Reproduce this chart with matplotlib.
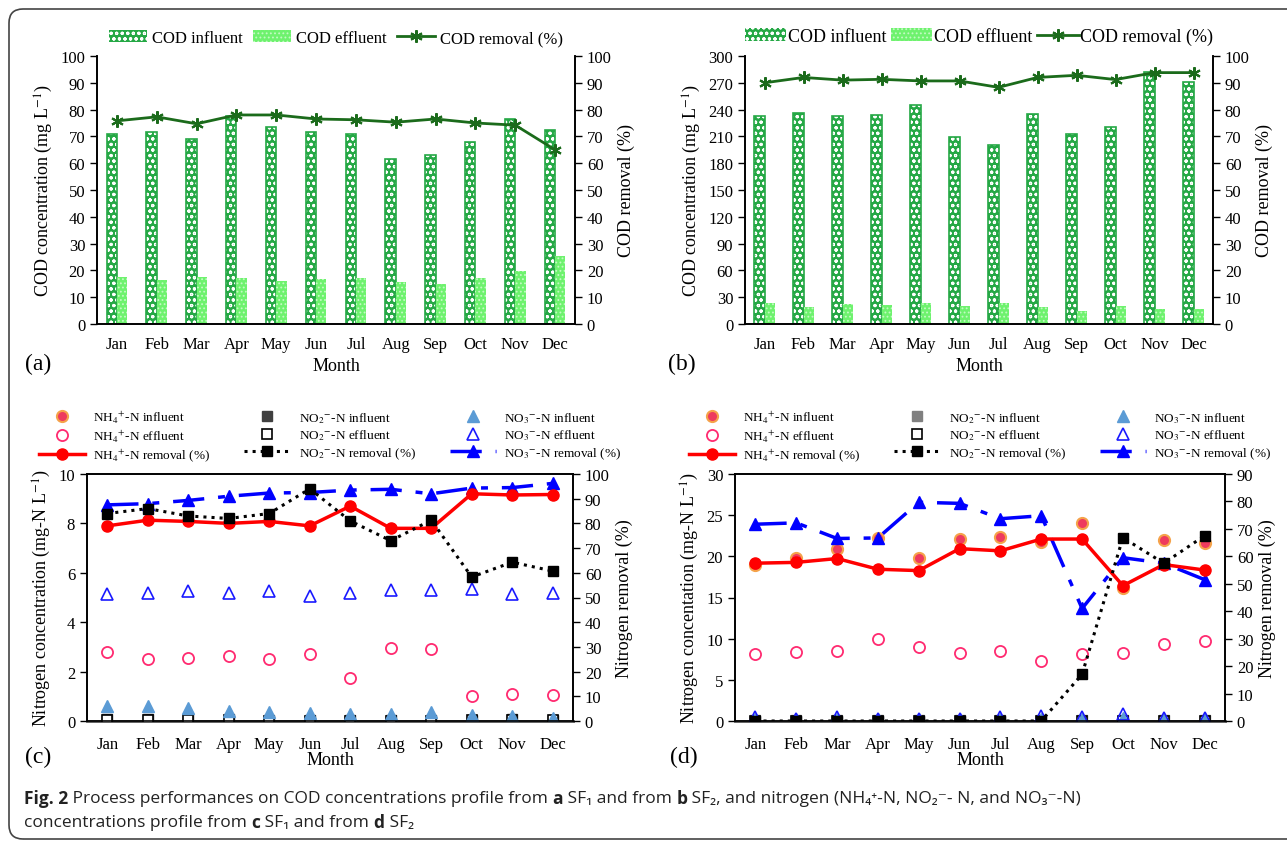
import matplotlib
matplotlib.use('Agg')
import matplotlib.pyplot as plt
import numpy as np
from matplotlib.patches import FancyBboxPatch

plt.rcParams['font.family'] = ['Liberation Serif', 'DejaVu Serif']
plt.rcParams['mathtext.fontset'] = 'stix'
plt.rcParams['hatch.linewidth'] = 0.8

W, H = 1287, 845

# --- du lieu ---
months = ['Jan', 'Feb', 'Mar', 'Apr', 'May', 'Jun', 'Jul', 'Aug', 'Sep', 'Oct', 'Nov', 'Dec']

# (a) SF1 COD
cod_inf_a = [71, 71.5, 69, 77.5, 73.5, 71.5, 71, 61.5, 63, 68, 76.5, 72.5]
cod_eff_a = [17.5, 16.5, 17.5, 17, 16.2, 16.8, 17, 15.5, 15, 17, 19.8, 25.2]
cod_rem_a = [75.8, 77.3, 74.7, 78, 78, 76.5, 76.2, 75.3, 76.5, 75, 74.2, 65]

# (b) SF2 COD
cod_inf_b = [233, 236, 233, 234, 245, 209, 200, 235, 213, 220, 282, 271]
cod_eff_b = [24, 19, 22, 21, 23, 20, 24, 19, 15, 20, 17, 17]
cod_rem_b = [90, 92, 91, 91.3, 90.7, 90.7, 88.3, 92, 92.8, 91.2, 93.8, 93.8]

# (c) SF1 nitrogen
nh4_inf_c = []  # ngoai thang do, khong thay tren hinh
nh4_eff_c = [2.8, 2.52, 2.55, 2.62, 2.52, 2.72, 1.73, 2.97, 2.92, 1.0, 1.1, 1.07]
nh4_rem_c = [79, 81.3, 80.8, 80, 80.8, 79, 87, 78, 78, 92, 91.5, 91.7]
no2_inf_c = [0.1, 0.1, 0.1, 0.08, 0.06, 0.05, 0.05, 0.05, 0.05, 0.05, 0.08, 0.05]
no2_eff_c = [0.03, 0.03, 0.03, 0.03, 0.02, 0.02, 0.02, 0.02, 0.02, 0.03, 0.05, 0.06]
no2_rem_c = [84, 86, 83, 82, 84, 94, 81, 73, 81.3, 58.3, 64.3, 60.7]
no3_inf_c = [0.62, 0.6, 0.52, 0.42, 0.35, 0.32, 0.28, 0.28, 0.38, 0.25, 0.22, 0.12]
no3_eff_c = [5.15, 5.2, 5.27, 5.17, 5.27, 5.07, 5.17, 5.3, 5.3, 5.33, 5.15, 5.2]
no3_rem_c = [87.5, 88, 89.3, 91, 92.3, 92.5, 93.5, 93.8, 92, 94.3, 94.5, 96.2]

# (d) SF2 nitrogen
nh4_inf_d = [19, 19.8, 20.9, 22.2, 19.8, 22.1, 22.4, 21.7, 24.1, 16.2, 22, 21.6]
nh4_eff_d = [8.1, 8.4, 8.5, 9.9, 9.0, 8.2, 8.5, 7.3, 8.1, 8.2, 9.4, 9.7]
nh4_rem_d = [57.5, 57.8, 59.2, 55.3, 54.8, 62.8, 62, 66.3, 66.3, 49.3, 57, 55]
no2_inf_d = [0.1, 0.1, 0.1, 0.1, 0.1, 0.1, 0.1, 0.1, 0.1, 0.1, 0.1, 0.1]
no2_eff_d = [0.02, 0.02, 0.02, 0.02, 0.02, 0.02, 0.02, 0.02, 0.05, 0.05, 0.05, 0.05]
no2_rem_d = [0, 0, 0, 0, 0, 0, 0, 0, 17, 66.8, 57.5, 67.5]
no3_inf_d = [0.3, 0.2, 0.3, 0.2, 0.2, 0.2, 0.3, 0.3, 0.3, 0.4, 0.3, 0.3]
no3_eff_d = [0.5, 0.2, 0.5, 0.2, 0.2, 0.3, 0.5, 0.6, 0.5, 0.8, 0.4, 0.4]
no3_rem_d = [71.7, 72.2, 66.5, 66.7, 79.7, 79.3, 73.7, 74.8, 41, 59.5, 57.5, 51.5]


def rect(l, t, r, b):
    return [l / W, 1 - b / H, (r - l) / W, (b - t) / H]


fig = plt.figure(figsize=(W / 100, H / 100), dpi=100)

# khung vien bo tron
fig.add_artist(FancyBboxPatch((9, 5), 1300, 830, boxstyle='round,pad=0,rounding_size=14',
                              transform=None, fill=False, lw=1.2, ec='#444444'))

x = np.arange(12)


def cod_panel(pos, inf, eff, rem, ymax, ystep, lfont, tpad, cspace):
    ax = fig.add_axes(pos)
    w = 0.26
    b1 = ax.bar(x - w / 2, inf, w, color='#25a845', edgecolor='white', hatch='ooo', lw=0,
                label='COD influent')
    ax.bar(x - w / 2, inf, w, fill=False, edgecolor='#25a845', lw=1.2)
    b2 = ax.bar(x + w / 2, eff, w, color='#6ef26e', edgecolor='#c4fac4', hatch='....', lw=0,
                label='COD effluent')
    ax2 = ax.twinx()
    l1, = ax2.plot(x, rem, color='#1b6b1b', lw=2, marker=(6, 2, 0), ms=9, mew=1.5,
                   label='COD removal (%)')
    ax.set_xlim(-0.5, 11.5)
    ax.set_ylim(0, ymax)
    ax.set_yticks(np.arange(0, ymax + 1, ystep))
    ax2.set_ylim(0, 100)
    ax2.set_yticks(np.arange(0, 101, 10))
    ax.set_xticks(x)
    ax.set_xticklabels(months)
    for a in (ax, ax2):
        a.spines['top'].set_visible(False)
        a.tick_params(labelsize=12, direction='out', length=5, width=1)
        a.spines['left'].set_linewidth(1.2)
        a.spines['right'].set_linewidth(1.2)
        a.spines['bottom'].set_linewidth(1.2)
    ax.tick_params(axis='x', length=0, pad=9)
    ax.set_ylabel('COD concentration (mg L$^{-1}$)', fontsize=13)
    ax2.set_ylabel('COD removal (%)', fontsize=13)
    ax.set_xlabel('Month', fontsize=13, labelpad=3)
    ax2.legend([b1, b2, l1], ['COD influent', 'COD effluent', 'COD removal (%)'],
               loc='lower center', bbox_to_anchor=(0.5, 1.0), ncol=3, frameon=False,
               fontsize=lfont, handlelength=2.3, handletextpad=tpad, columnspacing=cspace,
               borderaxespad=0.2)
    return ax


def n_panel(pos, d, lmax, lstep, rmax, rstep, ylab, no2_color):
    (nh4_inf, nh4_eff, nh4_rem, no2_inf, no2_eff, no2_rem, no3_inf, no3_eff, no3_rem) = d
    ax = fig.add_axes(pos)
    ax2 = ax.twinx()
    h = []
    h += ax.plot(x[:len(nh4_inf)], nh4_inf, 'o', ls='none', ms=8, mfc='#ee3a5e', mec='#f5a24a',
                 mew=1.5)
    h += ax.plot(x, nh4_eff, 'o', ls='none', ms=8, mfc='none', mec='#ff2a70', mew=1.3)
    h += ax2.plot(x, nh4_rem, color='#ff0000', lw=2.5, marker='o', ms=8, zorder=3)
    h += ax.plot(x, no2_inf, 's', ls='none', ms=7, mfc=no2_color, mec=no2_color, zorder=4)
    h += ax.plot(x, no2_eff, 's', ls='none', ms=7, mfc='white', mec='black', mew=1.2, zorder=4)
    h += ax2.plot(x, no2_rem, color='black', lw=2.2, ls=':', marker='s', ms=7, zorder=4)
    h += ax.plot(x, no3_inf, '^', ls='none', ms=8, mfc='#5b9bd5', mec='#5b9bd5', zorder=5)
    h += ax.plot(x, no3_eff, '^', ls='none', ms=8, mfc='none', mec='#1a1aff', mew=1.2, zorder=5)
    h += ax2.plot(x, no3_rem, color='#0000ff', lw=2.5, dashes=(9, 4, 2, 4), marker='^', ms=8,
                  zorder=2)
    labels = ['NH$_4$$^{+}$-N influent', 'NH$_4$$^{+}$-N effluent', 'NH$_4$$^{+}$-N removal (%)',
              'NO$_2$$^{-}$-N influent', 'NO$_2$$^{-}$-N effluent', 'NO$_2$$^{-}$-N removal (%)',
              'NO$_3$$^{-}$-N influent', 'NO$_3$$^{-}$-N effluent', 'NO$_3$$^{-}$-N removal (%)']
    ax.set_xlim(-0.5, 11.5)
    ax.set_ylim(0, lmax)
    ax.set_yticks(np.arange(0, lmax + 0.01, lstep))
    ax2.set_ylim(0, rmax)
    ax2.set_yticks(np.arange(0, rmax + 1, rstep))
    ax.set_xticks(x)
    ax.set_xticklabels(months)
    for a in (ax, ax2):
        a.tick_params(labelsize=12, direction='out', length=5, width=1)
        for s in a.spines.values():
            s.set_linewidth(1.2)
    ax.spines['bottom'].set_linewidth(2)
    ax.spines['bottom'].set_color('#555555')
    ax.tick_params(axis='x', length=0, pad=11)
    ax.set_ylabel(ylab, fontsize=13)
    ax2.set_ylabel('Nitrogen removal (%)', fontsize=13)
    ax.set_xlabel('Month', fontsize=13, labelpad=-1)
    ax2.legend(h, labels, loc='lower center', bbox_to_anchor=(0.5, 1.0), ncol=3, frameon=False,
               fontsize=9.5, handlelength=3.5, handletextpad=0.6, columnspacing=2.6,
               labelspacing=0.22, borderaxespad=0.4)
    return ax


cod_panel(rect(97, 57, 575, 325), cod_inf_a, cod_eff_a, cod_rem_a, 100, 10, 12, 0.3, 0.6)
cod_panel(rect(745, 57, 1213, 325), cod_inf_b, cod_eff_b, cod_rem_b, 300, 30, 13, 0.1, 0.25)

n_panel(rect(87, 475, 573, 722),
        (nh4_inf_c, nh4_eff_c, nh4_rem_c, no2_inf_c, no2_eff_c, no2_rem_c,
         no3_inf_c, no3_eff_c, no3_rem_c),
        10, 2, 100, 10, 'Nitrogen concentration (mg-N L$^{-1}$)', '#404040')
n_panel(rect(735, 475, 1225, 722),
        (nh4_inf_d, nh4_eff_d, nh4_rem_d, no2_inf_d, no2_eff_d, no2_rem_d,
         no3_inf_d, no3_eff_d, no3_rem_d),
        30, 5, 90, 10, 'Nitrogen concentation (mg-N L$^{-1}$)', '#808080')

# nhan (a) (b) (c) (d)
for px, py, s in [(25, 364, '(a)'), (668, 364, '(b)'), (25, 757, '(c)'), (670, 757, '(d)')]:
    fig.text(px / W, 1 - py / H, s, fontsize=17, va='center', ha='left')

# chu thich hinh
cap_font = ['Open Sans', 'DejaVu Sans']
renderer = fig.canvas.get_renderer()


def caption_line(py, parts):
    xx = 24
    for txt, bold in parts:
        t = fig.text(xx / W, 1 - py / H, txt, fontsize=12.5, family=cap_font,
                     weight='bold' if bold else 'normal', color='#222222', va='center')
        xx += t.get_window_extent(renderer=renderer).width


caption_line(799, [('Fig. 2', True),
                   (' Process performances on COD concentrations profile from ', False),
                   ('a', True), (' SF\u2081 and from ', False), ('b', True),
                   (' SF\u2082, and nitrogen (NH\u2084\u207a-N, NO\u2082\u207b- N, and NO\u2083\u207b-N)',
                    False)])
caption_line(823, [('concentrations profile from ', False), ('c', True),
                   (' SF\u2081 and from ', False), ('d', True), (' SF\u2082', False)])

fig.savefig('out.png', dpi=100)
